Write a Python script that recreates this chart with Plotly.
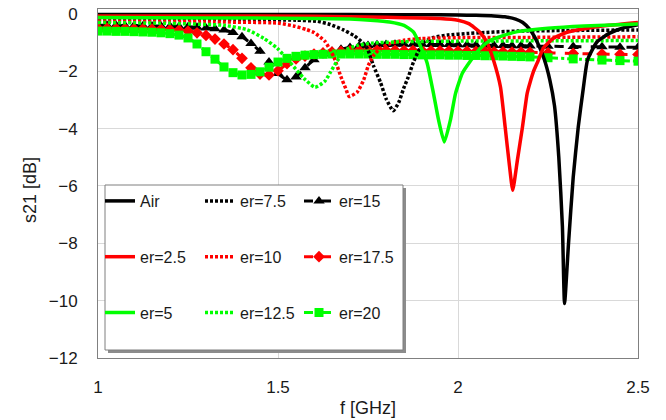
import plotly.graph_objects as go

# ---------------- data ----------------
f_air = [1.0, 1.2, 1.4, 1.6, 1.8, 1.9, 2.0, 2.05, 2.1, 2.13, 2.16, 2.18, 2.2, 2.22, 2.24,
         2.255, 2.268, 2.28, 2.29, 2.296, 2.307, 2.32, 2.334, 2.348, 2.36, 2.386, 2.42, 2.456, 2.5]
s_air = [-0.02, -0.02, -0.02, -0.02, -0.03, -0.03, -0.04, -0.05, -0.07, -0.1, -0.18, -0.3, -0.55, -0.98, -1.6,
         -2.3, -3.2, -5.0, -7.4, -10.1, -8.0, -5.7, -3.95, -2.6, -1.6, -0.98, -0.68, -0.5, -0.38]

f_er2_5 = [1.0, 1.3, 1.6, 1.8, 1.95, 2.0, 2.03, 2.06, 2.08, 2.1, 2.118, 2.131, 2.143, 2.152, 2.165,
           2.179, 2.192, 2.2, 2.21, 2.222, 2.237, 2.265, 2.303, 2.36, 2.42, 2.5]
s_er2_5 = [-0.07, -0.07, -0.08, -0.12, -0.16, -0.22, -0.34, -0.63, -0.98, -1.67, -2.55, -3.95, -5.3, -6.15, -5.1,
           -3.95, -2.78, -2.4, -2.0, -1.65, -1.2, -0.85, -0.64, -0.5, -0.4, -0.3]

f_er5 = [1.0, 1.3, 1.5, 1.7, 1.757, 1.81, 1.85, 1.876, 1.895, 1.914, 1.932, 1.946, 1.962, 1.979, 1.993,
         2.012, 2.034, 2.062, 2.09, 2.127, 2.165, 2.25, 2.35, 2.5]
s_er5 = [-0.13, -0.14, -0.15, -0.18, -0.22, -0.28, -0.4, -0.63, -1.1, -1.7, -2.78, -3.7, -4.47, -3.7, -2.78,
         -2.07, -1.65, -1.2, -0.92, -0.75, -0.62, -0.5, -0.42, -0.35]

f_er7_5 = [1.0, 1.2, 1.4, 1.55, 1.61, 1.645, 1.68, 1.71, 1.735, 1.748, 1.765, 1.785, 1.8, 1.82, 1.835,
           1.849, 1.862, 1.876, 1.89, 1.904, 1.932, 1.97, 2.03, 2.165, 2.3, 2.5]
s_er7_5 = [-0.18, -0.19, -0.2, -0.22, -0.26, -0.37, -0.55, -0.75, -1.0, -1.2, -1.8, -2.4, -2.95, -3.38, -3.1,
           -2.6, -2.2, -1.69, -1.3, -1.0, -0.82, -0.74, -0.68, -0.6, -0.58, -0.56]

f_er10 = [1.0, 1.3, 1.5, 1.543, 1.58, 1.6, 1.63, 1.655, 1.675, 1.688, 1.698, 1.72, 1.738, 1.751, 1.766,
          1.785, 1.812, 1.85, 1.9, 2.0, 2.2, 2.5]
s_er10 = [-0.25, -0.28, -0.32, -0.42, -0.55, -0.65, -0.95, -1.5, -2.2, -2.6, -2.88, -2.73, -2.3, -1.8, -1.44,
          -1.2, -1.03, -0.92, -0.86, -0.83, -0.82, -0.8]

f_er12_5 = [1.0, 1.2, 1.35, 1.414, 1.46, 1.498, 1.534, 1.572, 1.603, 1.63, 1.645, 1.664, 1.69, 1.72, 1.76,
            1.85, 2.0, 2.5]
s_er12_5 = [-0.3, -0.33, -0.4, -0.55, -0.85, -1.2, -1.7, -2.25, -2.56, -2.35, -2.05, -1.65, -1.25, -1.1, -1.02,
            -0.97, -0.95, -0.93]

f_mk = [1.000, 1.025, 1.050, 1.075, 1.100, 1.125, 1.150, 1.175, 1.200, 1.225, 1.250, 1.275, 1.300, 1.325,
        1.350, 1.375, 1.400, 1.425, 1.450, 1.475, 1.500, 1.525, 1.550, 1.575, 1.600, 1.625, 1.650, 1.675,
        1.700, 1.725, 1.750, 1.775, 1.800, 1.825, 1.850, 1.875, 1.900, 1.925, 1.950, 1.975, 2.000, 2.025,
        2.050, 2.075, 2.100, 2.125, 2.150, 2.175, 2.200, 2.250, 2.320, 2.400, 2.450, 2.500]

s_er15 = [-0.40, -0.40, -0.40, -0.41, -0.41, -0.41, -0.42, -0.42, -0.43, -0.44, -0.45, -0.47, -0.49, -0.52,
          -0.56, -0.65, -0.80, -1.03, -1.30, -1.68, -2.08, -2.30, -2.20, -1.88, -1.60, -1.40, -1.30, -1.23,
          -1.17, -1.13, -1.10, -1.08, -1.07, -1.06, -1.06, -1.06, -1.06, -1.07, -1.07, -1.07, -1.08, -1.08,
          -1.09, -1.09, -1.10, -1.10, -1.11, -1.11, -1.12, -1.13, -1.14, -1.15, -1.16, -1.16]

s_er17_5 = [-0.50, -0.50, -0.51, -0.51, -0.52, -0.52, -0.53, -0.54, -0.55, -0.57, -0.60, -0.66, -0.75, -0.88,
            -1.05, -1.25, -1.55, -1.88, -2.10, -2.13, -1.98, -1.74, -1.57, -1.47, -1.40, -1.36, -1.33, -1.31,
            -1.29, -1.28, -1.27, -1.27, -1.27, -1.27, -1.28, -1.28, -1.28, -1.29, -1.29, -1.29, -1.30, -1.30,
            -1.31, -1.31, -1.32, -1.32, -1.33, -1.33, -1.34, -1.36, -1.38, -1.40, -1.41, -1.42]

s_er20 = [-0.60, -0.60, -0.61, -0.61, -0.62, -0.63, -0.64, -0.66, -0.69, -0.74, -0.84, -1.05, -1.32, -1.58,
          -1.85, -2.05, -2.13, -2.11, -2.02, -1.86, -1.68, -1.55, -1.48, -1.44, -1.42, -1.41, -1.40, -1.40,
          -1.40, -1.40, -1.40, -1.41, -1.41, -1.41, -1.42, -1.42, -1.43, -1.43, -1.43, -1.44, -1.44, -1.45,
          -1.45, -1.46, -1.46, -1.47, -1.48, -1.49, -1.50, -1.53, -1.57, -1.61, -1.63, -1.65]

x_title = "f [GHz]"
y_title = "s21 [dB]"

# ---------------- figure ----------------
W, H = 666, 420
ML, MR, MT, MB = 98, 28, 9, 62
PW, PH = W - ML - MR, H - MT - MB


def px_x(px):
    return (px - ML) / PW


def px_y(py):
    return (H - MB - py) / PH


BLACK, RED, GREEN = "#000000", "#ff0000", "#00ff00"
DOT = "3px,2px"

fig = go.Figure()

series = [
    ("Air", f_air, s_air, BLACK, "solid", None, "legend"),
    ("er=2.5", f_er2_5, s_er2_5, RED, "solid", None, "legend"),
    ("er=5", f_er5, s_er5, GREEN, "solid", None, "legend"),
    ("er=7.5", f_er7_5, s_er7_5, BLACK, DOT, None, "legend2"),
    ("er=10", f_er10, s_er10, RED, DOT, None, "legend2"),
    ("er=12.5", f_er12_5, s_er12_5, GREEN, DOT, None, "legend2"),
    ("er=15", f_mk, s_er15, BLACK, "dash", "triangle-up", "legend3"),
    ("er=17.5", f_mk, s_er17_5, RED, "dash", "diamond", "legend3"),
    ("er=20", f_mk, s_er20, GREEN, "dashdot", "square", "legend3"),
]

# draw marker series first (underneath), then dotted, then solid
draw_order = [6, 7, 8, 3, 4, 5, 0, 1, 2]
for i in draw_order:
    name, fx, sy, col, dash, sym, lg = series[i]
    kw = {}
    if sym:
        mode = "lines+markers"
        kw["marker"] = dict(symbol=sym, size=10 if sym == "triangle-up" else 9, color=col)
        width = 3
    else:
        mode = "lines"
        width = 3.5
    fig.add_trace(go.Scatter(
        x=fx, y=sy, name=name, mode=mode,
        line=dict(color=col, width=width, dash=dash, shape="spline", smoothing=0.5),
        legend=lg, legendgroup=name, legendrank=i, **kw))

# legend box with shadow
bx0, by0, bx1, by1 = 105, 185, 403, 350
fig.add_shape(type="rect", xref="paper", yref="paper", layer="above",
              x0=px_x(bx0 + 3), x1=px_x(bx1 + 3), y0=px_y(by1 + 3), y1=px_y(by0 + 3),
              line=dict(width=0), fillcolor="#8c8c8c")
fig.add_shape(type="rect", xref="paper", yref="paper", layer="above",
              x0=px_x(bx0), x1=px_x(bx1), y0=px_y(by1), y1=px_y(by0),
              line=dict(color="#7f7f7f", width=1), fillcolor="#ffffff")

leg_common = dict(bgcolor="rgba(0,0,0,0)", borderwidth=0, orientation="v",
                  font=dict(family="Liberation Sans, Arial, sans-serif", size=16, color="#1a1a1a"),
                  xanchor="left", yanchor="top", tracegroupgap=32, itemwidth=30,
                  traceorder="grouped")
legend_y = px_y(184)
fig.update_layout(
    legend=dict(x=px_x(100), y=legend_y, **leg_common),
    legend2=dict(x=px_x(200), y=legend_y, **leg_common),
    legend3=dict(x=px_x(299), y=legend_y, **leg_common),
)

axis_font = dict(family="Liberation Sans, Arial, sans-serif", size=17, color="#1a1a1a")
title_font = dict(family="Liberation Sans, Arial, sans-serif", size=18, color="#1a1a1a")
fig.update_xaxes(range=[1, 2.5], tickvals=[1, 1.5, 2, 2.5], ticktext=["1", "1.5", "2", "2.5"],
                 showgrid=True, gridcolor="#d9d9d9", gridwidth=1, automargin=False,
                 showline=True, linecolor="#808080", linewidth=1, mirror=True,
                 ticks="", tickfont=axis_font, ticklabelstandoff=14, zeroline=False)
fig.update_yaxes(range=[-12, 0.17], tickvals=[0, -2, -4, -6, -8, -10, -12],
                 showgrid=True, gridcolor="#d9d9d9", gridwidth=1, automargin=False,
                 showline=True, linecolor="#808080", linewidth=1, mirror=True,
                 ticks="", tickfont=axis_font, ticklabelstandoff=16, zeroline=False)

fig.add_annotation(text=x_title, xref="paper", yref="paper", x=0.5, y=px_y(408),
                   xanchor="center", yanchor="middle", showarrow=False, font=title_font)
fig.add_annotation(text=y_title, xref="paper", yref="paper", x=px_x(30), y=px_y(190),
                   xanchor="center", yanchor="middle", showarrow=False, textangle=-90,
                   font=title_font)

fig.update_layout(width=W, height=H, margin=dict(l=ML, r=MR, t=MT, b=MB, autoexpand=False),
                  paper_bgcolor="white", plot_bgcolor="white", showlegend=True)

fig.write_html("out.html")
